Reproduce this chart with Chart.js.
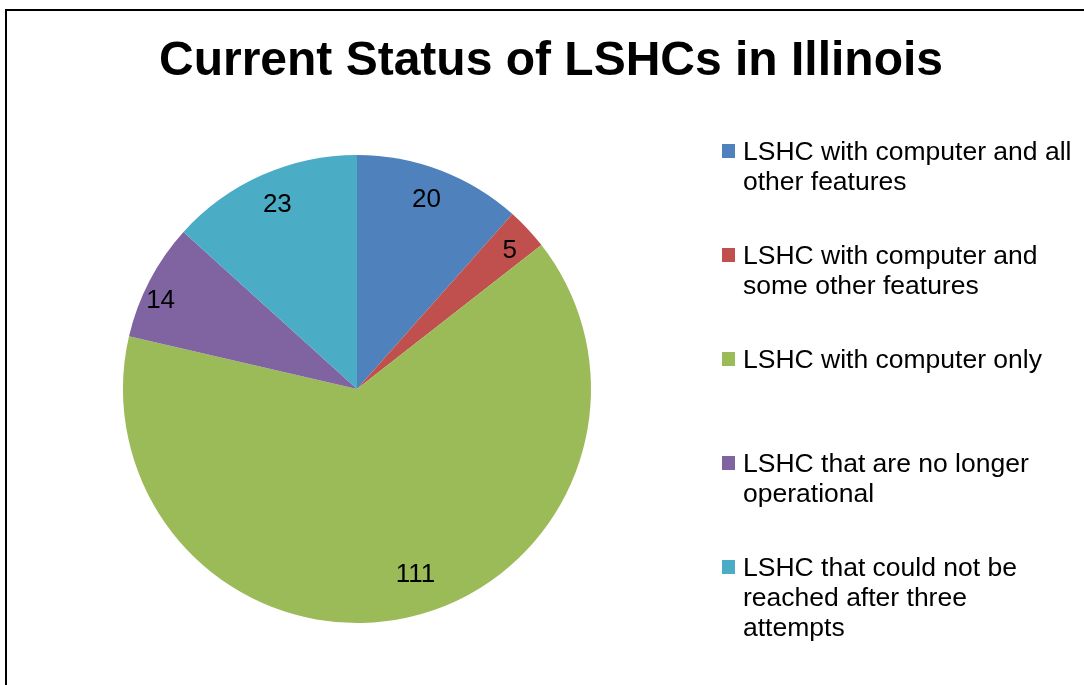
<!DOCTYPE html>
<html>
<head>
<meta charset="utf-8">
<title>Current Status of LSHCs in Illinois</title>
<script src="https://cdn.jsdelivr.net/npm/chart.js@4/dist/chart.umd.min.js"></script>
<style>
  body { margin: 0; background: #fff; }
  #wrap { position: relative; width: 1084px; height: 685px; }
</style>
</head>
<body>
<div id="wrap"><canvas id="pieChart" width="1084" height="685"></canvas></div>
<script>
var chartTitle = 'Current Status of LSHCs in Illinois';
var categories = [
    ['LSHC with computer and all', 'other features'],
    ['LSHC with computer and', 'some other features'],
    ['LSHC with computer only'],
    ['LSHC that are no longer', 'operational'],
    ['LSHC that could not be', 'reached after three', 'attempts']
];
var counts = [20, 5, 111, 14, 23];
var sliceColors = ['#4F81BD', '#C0504D', '#9BBB59', '#8064A2', '#4BACC6'];
// small pixel nudges for the value labels ("best fit" placement)
var labelNudge = [[-2, -2], [6, -1], [15, -12], [-18, 4], [2, -1]];

var FONT = '"Liberation Sans", Arial, sans-serif';

// frame line along the top and left edge
var framePlugin = {
    id: 'frame',
    beforeDraw: function(chart) {
        var ctx = chart.ctx;
        ctx.save();
        ctx.fillStyle = '#fff';
        ctx.fillRect(0, 0, chart.width, chart.height);
        ctx.strokeStyle = '#000';
        ctx.lineWidth = 2;
        ctx.beginPath();
        ctx.moveTo(6, chart.height);
        ctx.lineTo(6, 10);
        ctx.lineTo(chart.width, 10);
        ctx.stroke();
        ctx.restore();
    }
};

// title, value labels and the wrapped legend
var textPlugin = {
    id: 'texts',
    afterDatasetsDraw: function(chart) {
        var ctx = chart.ctx;
        ctx.save();

        ctx.fillStyle = '#000';
        ctx.font = 'bold 48px ' + FONT;
        ctx.textAlign = 'center';
        ctx.textBaseline = 'alphabetic';
        ctx.fillText(chartTitle, 551, 75);

        ctx.font = '26px ' + FONT;
        ctx.textBaseline = 'middle';
        var meta = chart.getDatasetMeta(0);
        meta.data.forEach(function(arc, i) {
            var mid = (arc.startAngle + arc.endAngle) / 2;
            var r = arc.outerRadius * 0.86;
            var x = arc.x + Math.cos(mid) * r + labelNudge[i][0];
            var y = arc.y + Math.sin(mid) * r + 1 + labelNudge[i][1];
            ctx.fillText(String(counts[i]), x, y);
        });

        ctx.font = '26.5px ' + FONT;
        ctx.textAlign = 'left';
        ctx.textBaseline = 'alphabetic';
        categories.forEach(function(lines, i) {
            var base = 160 + i * 104;
            ctx.fillStyle = sliceColors[i];
            ctx.fillRect(722, base - 16, 13, 14);
            ctx.fillStyle = '#000';
            lines.forEach(function(line, j) {
                ctx.fillText(line, 743, base + j * 30);
            });
        });
        ctx.restore();
    }
};

new Chart(document.getElementById('pieChart'), {
    type: 'pie',
    data: {
        labels: categories.map(function(c) { return c.join(' '); }),
        datasets: [{
            data: counts,
            backgroundColor: sliceColors,
            borderWidth: 0
        }]
    },
    options: {
        responsive: false,
        animation: false,
        devicePixelRatio: 1,
        layout: { padding: { left: 123, right: 493, top: 155, bottom: 62 } },
        plugins: {
            legend: { display: false },
            title: { display: false },
            tooltip: { enabled: false }
        }
    },
    plugins: [framePlugin, textPlugin]
});
</script>
</body>
</html>
